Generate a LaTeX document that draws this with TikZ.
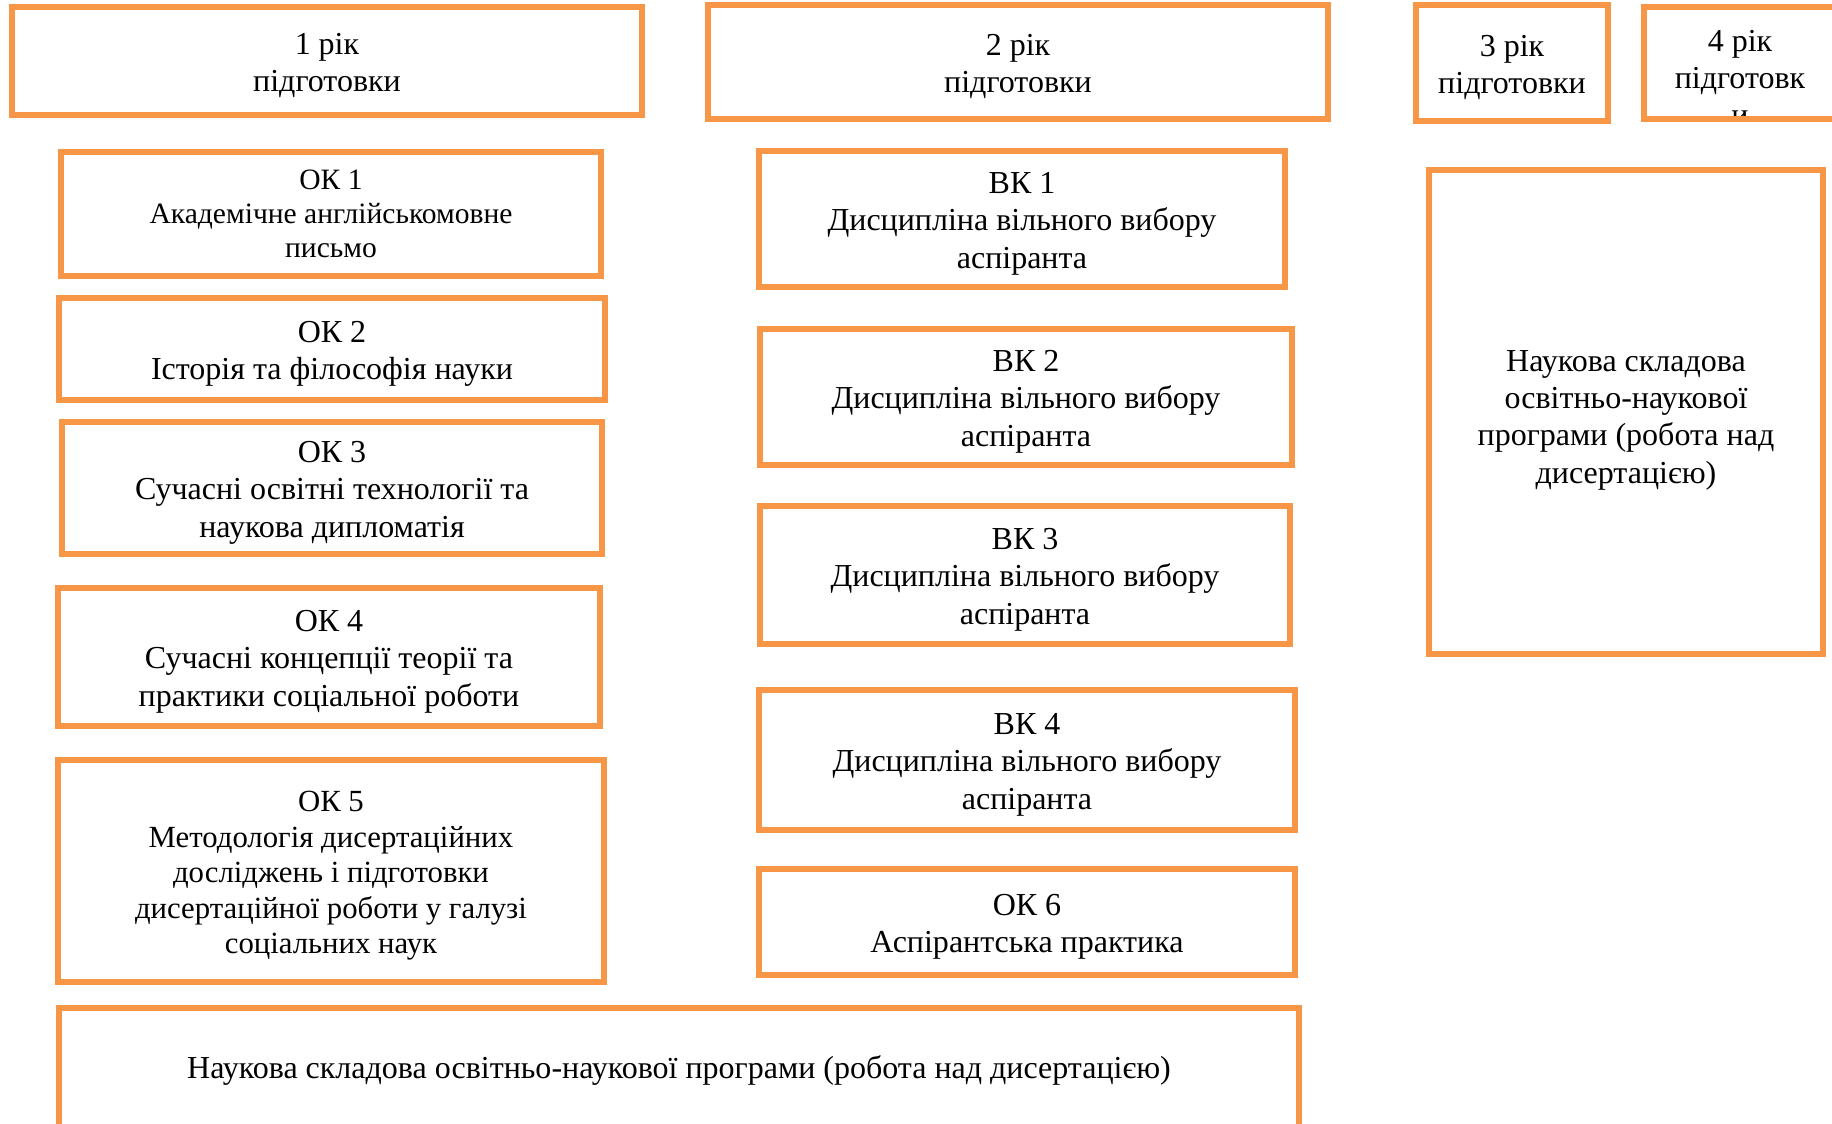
\documentclass[tikz,border=0pt]{standalone}
\usepackage{fontspec}
\setmainfont{Liberation Serif}
\definecolor{boxorange}{HTML}{F79646}
\newcommand{\boxfont}{\fontsize{9.1}{10.6}\selectfont}

\begin{document}
\begin{tikzpicture}[x=0.01cm,y=-0.01cm,
  kbox/.style={shape=rectangle,draw=boxorange,line width=1.7pt,inner sep=0pt},
  ktext/.style={align=center,inner sep=0pt,font=\boxfont,yshift=#1},
  ktext/.default=-0.047cm]
\useasboundingbox (0,0) rectangle (1832,1124);
%[years]
\path (327,61) node (yr1) [kbox,minimum width=6.30cm,minimum height=1.08cm,label={[ktext]center:{1 рік\\підготовки}}] {};
\path (1018,62) node (yr2) [kbox,minimum width=6.20cm,minimum height=1.13cm,label={[ktext]center:{2 рік\\підготовки}}] {};
\path (1512,63) node (yr3) [kbox,minimum width=1.92cm,minimum height=1.15cm,label={[ktext]center:{3 рік\\підготовки}}] {};
\path (1740,63) node (yr4) [kbox,minimum width=1.92cm,minimum height=1.12cm,
  path picture={\node [ktext=-0.15cm] at (path picture bounding box.center) {4 рік\\підготовк\\и};}] {};

%[first year]
\path (331,214) node (ok1) [kbox,minimum width=5.39cm,minimum height=1.24cm,label={[ktext=0cm,font=\fontsize{8.4}{9.6}\selectfont]center:{ОК 1\\Академічне англійськомовне\\письмо}}] {};
\path (332,349) node (ok2) [kbox,minimum width=5.45cm,minimum height=1.02cm,label={[ktext]center:{ОК 2\\Історія та філософія науки}}] {};
\path (332,488) node (ok3) [kbox,minimum width=5.40cm,minimum height=1.32cm,label={[ktext]center:{ОК 3\\Сучасні освітні технології та\\наукова дипломатія}}] {};
\path (329,657) node (ok4) [kbox,minimum width=5.41cm,minimum height=1.37cm,label={[ktext]center:{ОК 4\\Сучасні концепції теорії та\\практики соціальної роботи}}] {};
\path (331,871) node (ok5) [kbox,minimum width=5.45cm,minimum height=2.21cm,label={[ktext,font=\fontsize{8.75}{10.1}\selectfont]center:{ОК 5\\Методологія дисертаційних\\досліджень і підготовки\\дисертаційної роботи у галузі\\соціальних наук}}] {};

%[second year]
\path (1022,219) node (vk1) [kbox,minimum width=5.26cm,minimum height=1.35cm,label={[ktext]center:{ВК 1\\Дисципліна вільного вибору\\аспіранта}}] {};
\path (1026,397) node (vk2) [kbox,minimum width=5.31cm,minimum height=1.36cm,label={[ktext]center:{ВК 2\\Дисципліна вільного вибору\\аспіранта}}] {};
\path (1025,575) node (vk3) [kbox,minimum width=5.29cm,minimum height=1.38cm,label={[ktext]center:{ВК 3\\Дисципліна вільного вибору\\аспіранта}}] {};
\path (1027,760) node (vk4) [kbox,minimum width=5.36cm,minimum height=1.39cm,label={[ktext]center:{ВК 4\\Дисципліна вільного вибору\\аспіранта}}] {};
\path (1027,922) node (ok6) [kbox,minimum width=5.36cm,minimum height=1.05cm,label={[ktext]center:{ОК 6\\Аспірантська практика}}] {};

%[research part]
\path (1626,412) node (nauk) [kbox,minimum width=3.93cm,minimum height=4.83cm,label={[ktext=-0.082cm]center:{Наукова складова\\освітньо-наукової\\програми (робота над\\дисертацією)}}] {};
\path (679,1070) node (naukall) [kbox,minimum width=12.40cm,minimum height=1.24cm,label={[ktext=0cm]center:{Наукова складова освітньо-наукової програми (робота над дисертацією)}}] {};

\end{tikzpicture}
\end{document}
